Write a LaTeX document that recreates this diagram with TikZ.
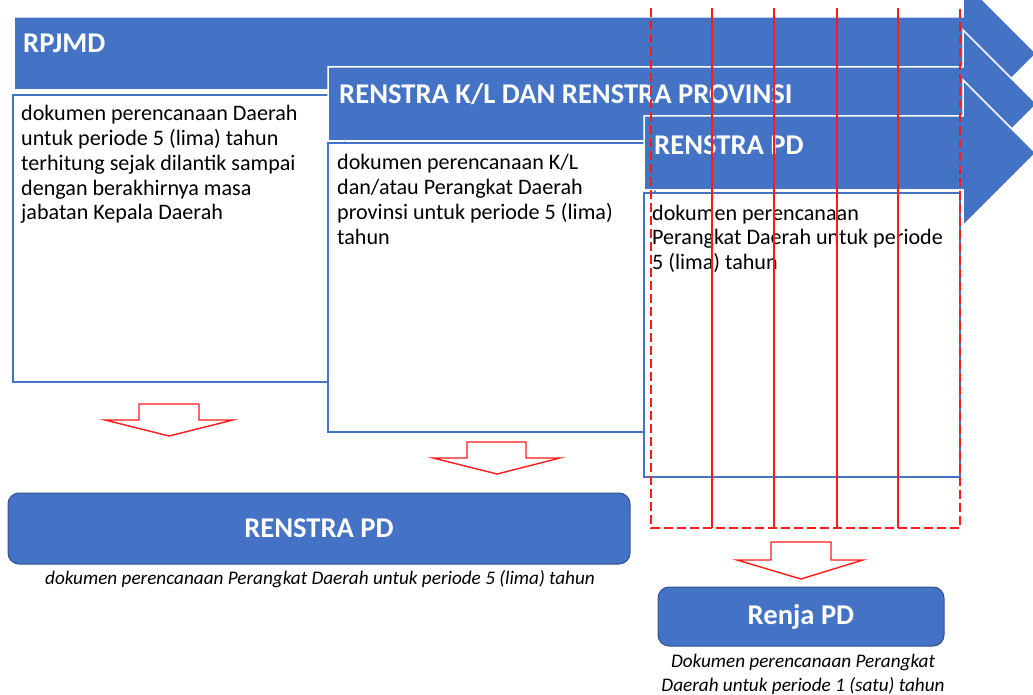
\documentclass[tikz,border=0pt]{standalone}
\usepackage{fontspec}
\setmainfont{Carlito}
\definecolor{obl}{HTML}{4472C4}
\definecolor{obd}{HTML}{2F528F}
\definecolor{rd}{HTML}{FF1A1A}
\begin{document}
\begin{tikzpicture}[x=1pt,y=-1pt,
 bigarrow/.style={fill=obl, draw=white, line width=1.5pt, line join=miter},
 docbox/.style={fill=white, draw=obl, line width=1.3pt},
 titletxt/.style={anchor=base west, inner sep=0, text=white, font=\fontsize{28.6}{30}\selectfont\bfseries},
 bodytxt/.style={anchor=base west, inner sep=0},
 downarrow/.style={fill=white, draw=rd, line width=1.4pt, line join=miter},
 redline/.style={draw=rd, line width=1.5pt},
 reddash/.style={draw=rd, line width=2pt, dash pattern=on 9pt off 4pt},
 roundbox/.style={draw=obd, fill=obl, rounded corners=11pt, line width=1pt, text=white, font=\fontsize{28.6}{30}\selectfont\bfseries, inner sep=0},
 captxt/.style={inner sep=0, font=\fontsize{19.2}{24}\selectfont\itshape}
]
\useasboundingbox (0,0) rectangle (1033,695);
\clip (0,0) rectangle (1033,695);
% RPJMD
\draw[bigarrow] (14,17) -- (963,17) -- (963,-20) -- (1036.5,53.5) -- (963,127) -- (963,90) -- (14,90) -- cycle;
\node[titletxt] (t1) at (23,53) {RPJMD};
\draw[docbox] (13,95) rectangle (345,382);
\node[bodytxt] (b1) at (21,121) {\parbox[t]{310pt}{\fontsize{22.1}{24.7}\selectfont\raggedright dokumen perencanaan Daerah\\untuk periode 5 (lima) tahun\\terhitung sejak dilantik sampai\\dengan berakhirnya masa\\jabatan Kepala Daerah}};
% RENSTRA K/L
\draw[bigarrow] (328,67) -- (963,67) -- (963,30) -- (1037,104) -- (963,178) -- (963,141) -- (328,141) -- cycle;
\node[titletxt] (t2) at (339,104) {RENSTRA K/L DAN RENSTRA PROVINSI};
\draw[docbox] (328,143) rectangle (655,432);
\node[bodytxt] (b2) at (337,170) {\parbox[t]{300pt}{\fontsize{22.1}{24.7}\selectfont\raggedright dokumen perencanaan K/L\\dan/atau Perangkat Daerah\\provinsi untuk periode 5 (lima)\\tahun}};
% RENSTRA PD (top)
\draw[bigarrow] (644,116) -- (963,116) -- (963,80) -- (1036,153) -- (963,226) -- (963,190) -- (644,190) -- cycle;
\node[titletxt] (t3) at (654,155) {RENSTRA PD};
\draw[docbox] (644,193) rectangle (960,477);
\node[bodytxt] (b3) at (652,220) {\parbox[t]{300pt}{\fontsize{22.1}{24.7}\selectfont\raggedright dokumen perencanaan\\Perangkat Daerah untuk periode\\5 (lima) tahun}};
% red lines
\draw[reddash] (651,8) -- (651,528) -- (960,528) -- (960,8);
\foreach \xx in {712,774,837,898} \draw[redline] (\xx,8) -- (\xx,528);
% down arrows
\draw[downarrow] (139,404) -- (199,404) -- (199,420) -- (233,420) -- (169,436) -- (105,420) -- (139,420) -- cycle;
\draw[downarrow] (467,442) -- (526,442) -- (526,458) -- (560,458) -- (497,474) -- (433,458) -- (467,458) -- cycle;
\draw[downarrow] (771,542) -- (831,542) -- (831,560) -- (863,560) -- (801,579) -- (737,560) -- (771,560) -- cycle;
% bottom boxes
\node[roundbox, minimum width=622pt, minimum height=71pt] (rpd) at (319,528.5) {RENSTRA PD};
\node[captxt, anchor=base] (c1) at (320,584) {dokumen perencanaan Perangkat Daerah untuk periode 5 (lima) tahun};
\node[roundbox, minimum width=286pt, minimum height=59pt] (renja) at (801,616.5) {Renja PD};
\node[captxt, anchor=base] (c2) at (803,667) {\parbox[t]{320pt}{\centering Dokumen perencanaan Perangkat\\Daerah untuk periode 1 (satu) tahun}};
\end{tikzpicture}
\end{document}
